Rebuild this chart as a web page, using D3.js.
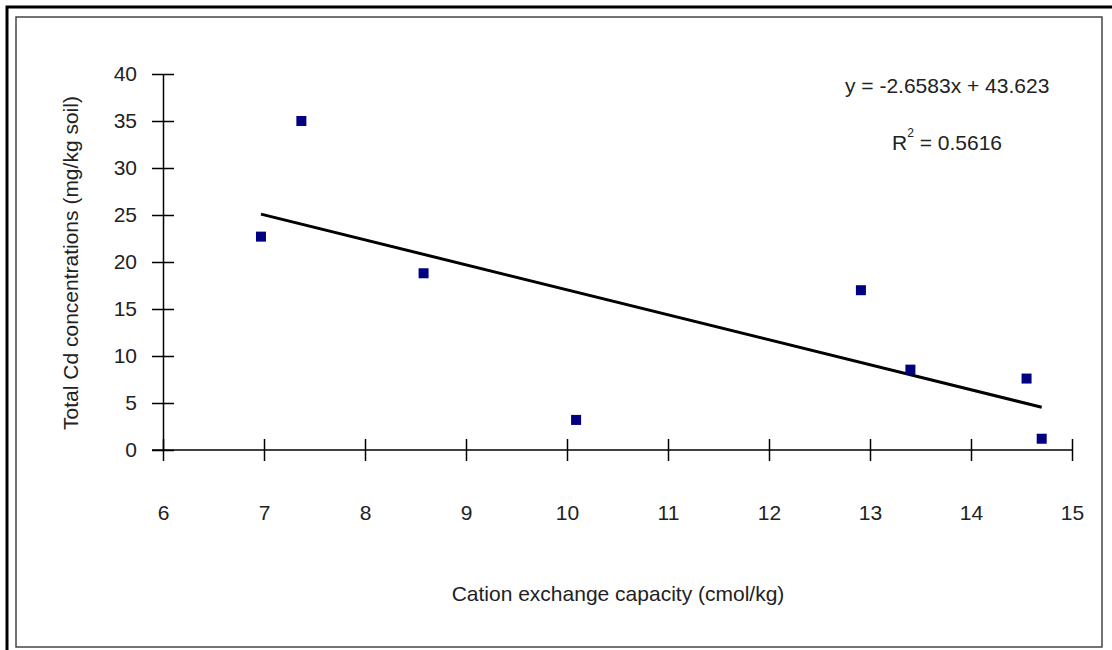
<!DOCTYPE html>
<html>
<head>
<meta charset="utf-8">
<script src="https://cdn.jsdelivr.net/npm/d3@7"></script>
<style>
  body { margin: 0; background: #fff; }
  svg text { font-family: "Liberation Sans", Arial, sans-serif; fill: #222; }
</style>
</head>
<body>
<svg width="1112" height="650"></svg>
<script>
// data
var cec = [6.97, 7.37, 8.58, 10.09, 12.91, 13.40, 14.55, 14.70];
var cd  = [22.7, 35.0, 18.8, 3.2, 17.0, 8.55, 7.6, 1.2];
var slope = -2.6583, intercept = 43.623, r2 = "0.5616";
var xTicks = [6, 7, 8, 9, 10, 11, 12, 13, 14, 15];
var yTicks = [0, 5, 10, 15, 20, 25, 30, 35, 40];

var svg = d3.select("svg");

// frames
svg.append("rect")
    .attr("x", 7).attr("y", 7)
    .attr("width", 1120).attr("height", 660)
    .attr("fill", "none").attr("stroke", "#000").attr("stroke-width", 3);
svg.append("rect")
    .attr("x", 16).attr("y", 17)
    .attr("width", 1086).attr("height", 630)
    .attr("fill", "none").attr("stroke", "#444").attr("stroke-width", 1.5);

var x = d3.scaleLinear().domain([6, 15]).range([163, 1072]),
    y = d3.scaleLinear().domain([0, 40]).range([450, 74]);

// y axis with ticks crossing the line
var gy = svg.append("g")
    .attr("transform", "translate(163,0)")
    .call(d3.axisLeft(y).tickValues(yTicks).tickSize(0).tickPadding(26));
gy.select(".domain").attr("stroke", "#000").attr("stroke-width", 1.5);
gy.selectAll(".tick line").attr("x1", -11).attr("x2", 11)
    .attr("stroke", "#000").attr("stroke-width", 1.5);
gy.selectAll(".tick text").attr("font-size", 21).attr("font-family", null);

var gx = svg.append("g")
    .attr("transform", "translate(0,450)")
    .call(d3.axisBottom(x).tickValues(xTicks).tickSize(0).tickPadding(70));
gx.select(".domain").attr("stroke", "#000").attr("stroke-width", 1.5)
    .attr("d", "M" + (x(6) - 11) + ",0H" + x(15));
gx.selectAll(".tick line").attr("y1", -11).attr("y2", 11)
    .attr("stroke", "#000").attr("stroke-width", 1.5);
gx.selectAll(".tick text").attr("font-size", 21).attr("font-family", null)
    .attr("dy", "0");

// axis titles
svg.append("text")
    .attr("text-anchor", "middle")
    .attr("x", 618).attr("y", 601)
    .attr("font-size", 21)
    .text("Cation exchange capacity (cmol/kg)");

svg.append("text")
    .attr("text-anchor", "middle")
    .attr("transform", "translate(78,263)rotate(-90)")
    .attr("font-size", 21)
    .text("Total Cd concentrations (mg/kg soil)");

// trend line
var x0 = d3.min(cec), x1 = d3.max(cec);
svg.append("line")
    .attr("x1", x(x0)).attr("y1", y(slope * x0 + intercept))
    .attr("x2", x(x1)).attr("y2", y(slope * x1 + intercept))
    .attr("stroke", "#000").attr("stroke-width", 3);

// points
svg.selectAll(".dot")
    .data(cec)
  .enter().append("rect")
    .attr("class", "dot")
    .attr("x", function(d) { return x(d) - 5; })
    .attr("y", function(d, i) { return y(cd[i]) - 5; })
    .attr("width", 10).attr("height", 10)
    .attr("fill", "#000080");

// equation
svg.append("text")
    .attr("x", 845).attr("y", 93)
    .attr("font-size", 21)
    .text("y = " + slope + "x + " + intercept);

var rt = svg.append("text")
    .attr("x", 892).attr("y", 150)
    .attr("font-size", 21);
rt.append("tspan").text("R");
rt.append("tspan").attr("font-size", 12).attr("dy", -13).text("2");
rt.append("tspan").attr("dy", 13).text(" = " + r2);
</script>
</body>
</html>
